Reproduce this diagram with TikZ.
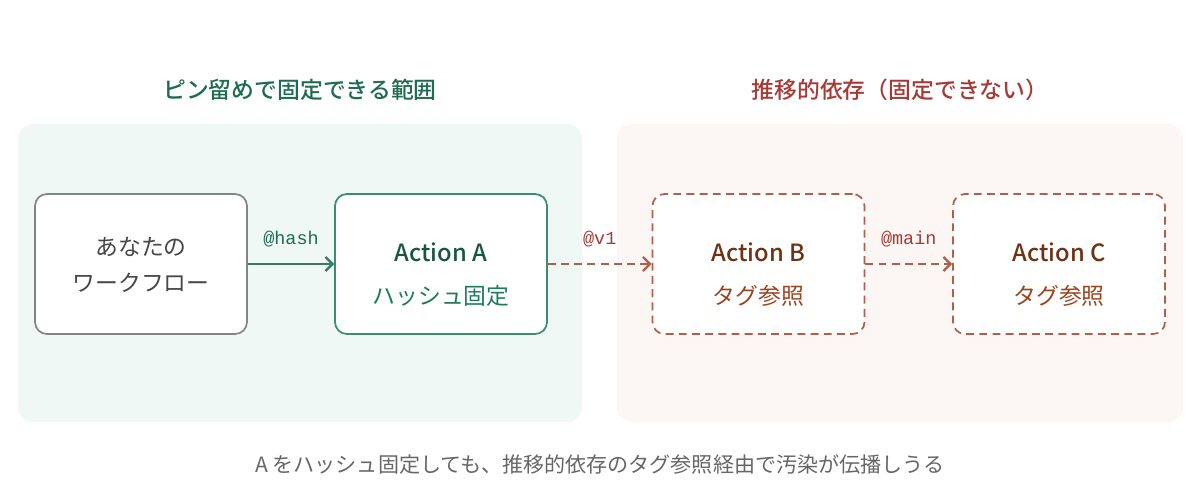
\documentclass[tikz,border=0pt]{standalone}
\usepackage{fontspec}
\usepackage{xcolor}
\usetikzlibrary{arrows.meta}
\setmainfont{Noto Sans CJK JP}[BoldFont={Noto Sans CJK JP Medium}]
\newfontfamily\monofont{Liberation Mono}

\definecolor{pinGreen}{HTML}{1F6B52}
\definecolor{pinSub}{HTML}{1E7A5C}
\definecolor{pinLine}{HTML}{3A8C72}
\definecolor{pinFill}{HTML}{F0F8F5}
\definecolor{tagRed}{HTML}{A53A36}
\definecolor{tagLine}{HTML}{B0604A}
\definecolor{tagText}{HTML}{6E3214}
\definecolor{tagSub}{HTML}{9C4420}
\definecolor{tagFill}{HTML}{FCF6F4}
\definecolor{boxGray}{HTML}{858585}
\definecolor{capGray}{HTML}{666666}

\begin{document}
\begin{tikzpicture}[x=0.02cm,y=-0.02cm,>={Straight Barb[length=4pt,width=8pt]},
	panel/.style={draw=none,rounded corners=15*0.02cm},
	box/.style={draw,fill=white,line width=1pt,rounded corners=12*0.02cm,minimum width=212*0.02cm,minimum height=140*0.02cm},
	tagbox/.style={box,draw=tagLine,dash pattern=on 4.5pt off 3pt},
	txt/.style={font=\fontsize{13}{16}\selectfont,inner sep=0pt},
	edge/.style={line width=1.3pt},
	tag/.style={font=\monofont\fontsize{10.5}{12}\selectfont,inner sep=1pt}]
			\useasboundingbox (0,0) rectangle (1200,494);
			
			% zones
			\fill[panel,pinFill] (18,124) rectangle (582,422);
			\fill[panel,tagFill] (617,124) rectangle (1183,422);
			\node[text=pinGreen,font=\bfseries\fontsize{13}{16}\selectfont] (pinTitle) at (300,90) {ピン留めで固定できる範囲};
			\node[text=tagRed,font=\bfseries\fontsize{13}{16}\selectfont] (tagTitle) at (900,90) {推移的依存（固定できない）};
			
			% actions
			\node[box,draw=boxGray] (wf) at (141,264) {};
			\node[box,draw=pinLine] (actA) at (441,264) {};
			\node[tagbox] (actB) at (758.5,264) {};
			\node[tagbox] (actC) at (1059,264) {};
			\node[txt,text=black!72] (wf1) at (141,247) {あなたの};
			\node[txt,text=black!72] (wf2) at (141,283) {ワークフロー};
			\node[txt,text=pinGreen!80!black,font=\bfseries\fontsize{13.5}{16}\selectfont] (actAname) at (441,252) {Action A};
			\node[txt,text=pinSub] (actAsub) at (441,296) {ハッシュ固定};
			\node[txt,text=tagText,font=\bfseries\fontsize{13.5}{16}\selectfont] (actBname) at (758.5,252) {Action B};
			\node[txt,text=tagSub] (actBsub) at (758.5,296) {タグ参照};
			\node[txt,text=tagText,font=\bfseries\fontsize{13.5}{16}\selectfont] (actCname) at (1059,252) {Action C};
			\node[txt,text=tagSub] (actCsub) at (1059,296) {タグ参照};
			
			% references
			\draw[->,edge,pinGreen!90] (wf) -- node[tag,above=8pt,text=pinGreen] {@hash} (actA);
			\draw[->,edge,tagLine,dash pattern=on 4.5pt off 3pt] (actA) -- node[tag,above=8pt,text=tagRed] {@v1} (actB);
			\draw[->,edge,tagLine,dash pattern=on 4.5pt off 3pt] (actB) -- node[tag,above=8pt,text=tagRed] {@main} (actC);
			
			\node[text=capGray,font=\fontsize{12}{14}\selectfont] (caption) at (600,464) {A をハッシュ固定しても、推移的依存のタグ参照経由で汚染が伝播しうる};
		\end{tikzpicture}
\end{document}
